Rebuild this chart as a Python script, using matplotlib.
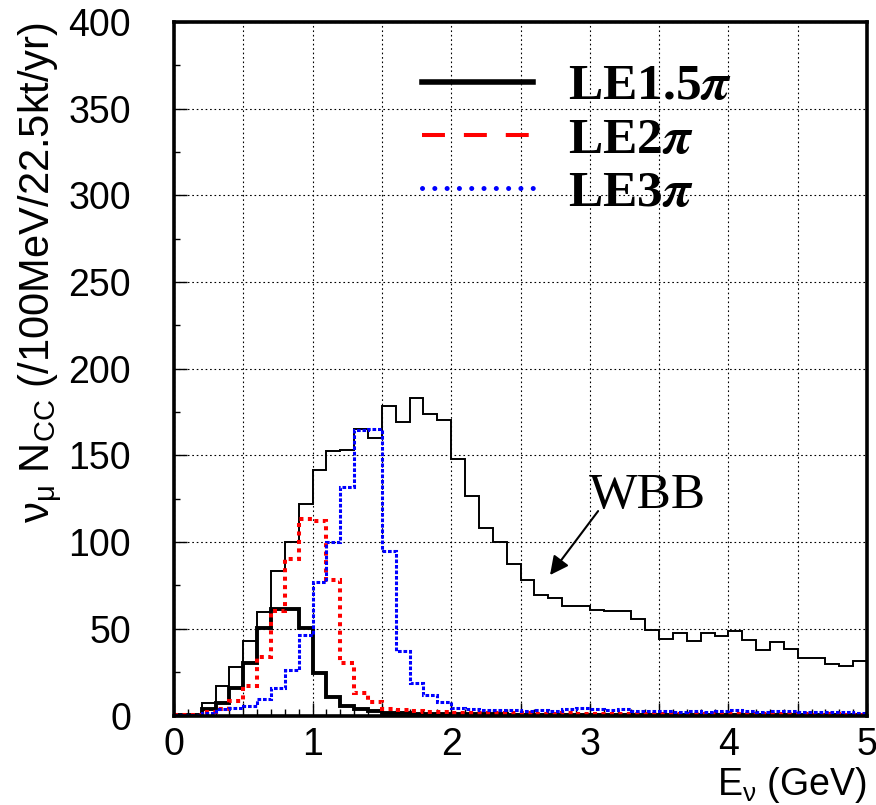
import numpy as np
import matplotlib
matplotlib.use("Agg")
import matplotlib.pyplot as plt
from matplotlib.lines import Line2D
from matplotlib.ticker import MultipleLocator, FuncFormatter
from matplotlib.font_manager import FontProperties

# ---------------- data (events per 0.1 GeV bin, 0-5 GeV) ----------------
bin_edges = np.round(np.arange(51) * 0.1, 1)

wbb = [0.2, 0.5, 7.3, 16.9, 28.0, 43.0, 59.7, 83.2, 100.3, 122.0,
       141.5, 152.6, 153.4, 165.1, 160.3, 178.4, 169.0, 183.2, 173.8, 170.7,
       147.8, 126.7, 108.4, 100.3, 87.3, 78.0, 69.4, 68.0, 63.4, 63.4,
       60.9, 60.3, 60.3, 55.5, 49.2, 44.4, 47.6, 43.0, 47.6, 45.7,
       48.8, 43.8, 38.0, 42.3, 38.6, 33.2, 33.2, 29.6, 28.4, 31.3]

le15pi = [0.2, 0.5, 3.5, 7.0, 15.6, 30.0, 50.7, 61.7, 61.7, 50.2,
          24.6, 10.7, 5.4, 4.0, 2.5, 1.5, 1.2, 1.0, 0.9, 0.8,
          0.7, 0.7, 0.6, 0.6, 0.5, 0.5, 0.5, 0.4, 0.4, 0.4,
          0.4, 0.3, 0.3, 0.3, 0.3, 0.3, 0.3, 0.2, 0.2, 0.2,
          0.2, 0.2, 0.2, 0.2, 0.2, 0.2, 0.2, 0.2, 0.2, 0.2]

le2pi = [0.3, 0.5, 2.0, 4.0, 8.4, 16.9, 33.8, 60.5, 90.0, 113.4,
         112.2, 78.0, 30.0, 13.0, 7.8, 4.0, 3.0, 2.4, 2.0, 1.8,
         1.6, 1.5, 1.4, 1.3, 1.2, 1.3, 1.1, 1.0, 1.2, 1.0,
         1.0, 0.9, 1.0, 0.9, 0.8, 0.9, 0.8, 0.7, 0.8, 0.8,
         0.7, 0.7, 0.6, 0.7, 0.6, 0.6, 0.5, 0.6, 0.5, 0.5]

le3pi = [0.5, 0.5, 1.5, 3.5, 4.3, 5.5, 9.8, 15.6, 26.0, 46.3,
         77.0, 100.1, 131.8, 164.9, 165.5, 94.9, 37.3, 18.8, 11.7, 7.8,
         4.6, 3.5, 3.4, 3.0, 3.3, 2.8, 3.0, 2.6, 3.6, 4.2,
         3.5, 3.2, 3.8, 2.8, 2.6, 2.5, 2.2, 2.6, 2.3, 2.8,
         3.3, 2.4, 2.2, 2.6, 2.4, 1.8, 2.0, 1.8, 1.9, 1.5]

legend_labels = [r"LE1.5$\boldsymbol{\pi}$", r"LE2$\boldsymbol{\pi}$", r"LE3$\boldsymbol{\pi}$"]
x_tick_values = [0, 1, 2, 3, 4, 5]

# ---------------- figure ----------------
plt.rcParams["font.family"] = ["Liberation Sans", "DejaVu Sans"]
fig = plt.figure(figsize=(8.76, 8.05), dpi=100)
ax = fig.add_axes([0.19863, 0.11118, 0.79110, 0.86161])

ax.set_xlim(0, 5)
ax.set_ylim(0, 400)

# grid
ax.set_axisbelow(True)
ax.xaxis.set_major_locator(MultipleLocator(0.5))
ax.xaxis.set_minor_locator(MultipleLocator(0.1))
ax.yaxis.set_major_locator(MultipleLocator(50))
ax.yaxis.set_minor_locator(MultipleLocator(25))
ax.grid(True, which="major", color="black", linestyle=(0, (1.5, 2.5)), linewidth=0.8)

ax.xaxis.set_major_formatter(
    FuncFormatter(lambda v, p: f"{v:.0f}" if abs(v - round(v)) < 1e-6 and round(v) in x_tick_values else ""))

# histograms
ax.stairs(wbb, bin_edges, baseline=None, color="black", linewidth=1.4)
ax.stairs(le15pi, bin_edges, baseline=None, color="black", linewidth=2.8)
ax.stairs(le2pi, bin_edges, baseline=None, color="#ff0000", linewidth=2.9,
          linestyle=(0, (1.0, 1.1)))
ax.stairs(le3pi, bin_edges, baseline=None, color="#0000ff", linewidth=2.2,
          linestyle=(0, (1.2, 0.6)))

# spines & ticks
for s in ax.spines.values():
    s.set_linewidth(2.6)
ax.tick_params(axis="both", which="both", direction="in", top=False, right=False, width=1.0)
ax.tick_params(axis="x", which="major", length=9.5, pad=8, labelsize=27)
ax.tick_params(axis="x", which="minor", length=5)
ax.tick_params(axis="y", which="major", length=9.5, pad=31, labelsize=27)
ax.tick_params(axis="y", which="minor", length=4)

# axis labels
ax.set_xlabel(r"E$_{\mathregular{\nu}}$ (GeV)", fontsize=27, loc="right", labelpad=2)
ax.set_ylabel(r"$\mathregular{\nu_{\mu}}$ N$_{\mathregular{CC}}$ (/100MeV/22.5kt/yr)",
              fontsize=30, loc="top")
ax.yaxis.set_label_coords(-0.158, 1.0)

# legend
handles = [
    Line2D([], [], color="black", linewidth=4.0),
    Line2D([], [], color="#ff0000", linewidth=2.9, linestyle=(0, (5.7, 4.7))),
    Line2D([], [], color="#0000ff", linewidth=3.6, linestyle=(0, (0.01, 2.45)),
           dash_capstyle="round"),
]
leg_font = FontProperties(family="Liberation Serif", weight="bold", size=37,
                          math_fontfamily="stix")
leg = ax.legend(handles, legend_labels, prop=leg_font, frameon=False,
                loc="upper left", bbox_to_anchor=(0.358, 0.94),
                borderpad=0, borderaxespad=0, handlelength=2.16,
                handletextpad=0.68, labelspacing=0.12)

# annotation
ax.text(2.994, 119.7, "WBB", fontsize=37, family="Liberation Serif",
        ha="left", va="baseline")
ax.annotate("", xy=(2.713, 81.0), xytext=(3.06, 117.9),
            arrowprops=dict(arrowstyle="-|>", color="black", lw=1.5,
                            mutation_scale=28, shrinkA=0, shrinkB=0))

fig.savefig("out.png", dpi=100)
